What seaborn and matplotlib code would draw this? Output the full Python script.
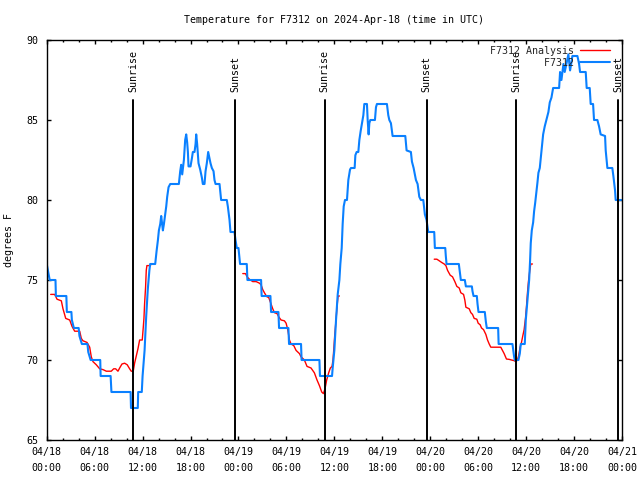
import matplotlib
matplotlib.use("Agg")
import matplotlib.pyplot as plt
from matplotlib.lines import Line2D
from matplotlib.ticker import MultipleLocator
import pandas as pd
import seaborn as sns

# ---------------- data (hours since 2024-04-18 00:00 UTC, deg F) ----------------
obs_hours = [0.0, 0.19, 0.375, 1.1, 1.15, 2.46, 2.52, 3.09, 3.15, 3.4, 4.0, 4.1, 4.4, 5.1, 5.2, 5.5,
             6.7, 6.75, 8.0, 8.1, 10.5, 10.55, 11.4, 11.45, 11.9, 12.0, 12.25, 12.45, 12.65, 12.85,
             12.95, 13.58, 13.75, 13.92, 14.04, 14.21, 14.33, 14.54, 14.67, 14.96, 15.08, 15.25,
             15.46, 16.54, 16.71, 16.83, 16.96, 17.17, 17.33, 17.46, 17.58, 17.67, 17.75, 18.0,
             18.17, 18.29, 18.5, 18.63, 18.71, 18.83, 19.0, 19.21, 19.42, 19.54, 19.75, 19.88,
             20.04, 20.21, 20.38, 20.5, 20.67, 20.88, 21.0, 21.13, 21.63, 21.75, 21.83, 22.54,
             22.67, 22.88, 23.0, 23.5, 23.63, 23.79, 24.0, 24.2, 25.04, 25.12, 26.83, 26.9, 28.0,
             28.08, 29.0, 29.08, 30.25, 30.33, 31.83, 31.9, 34.13, 34.2, 35.71, 35.79, 36.0, 36.21,
             36.42, 36.63, 36.75, 36.92, 37.04, 37.17, 37.33, 37.58, 37.75, 37.96, 38.08, 38.54,
             38.63, 38.79, 39.0, 39.13, 39.29, 39.46, 39.63, 39.75, 40.08, 40.17, 40.29, 40.38,
             40.5, 41.08, 41.21, 41.33, 42.58, 42.75, 42.88, 43.08, 43.29, 44.88, 45.04, 45.58,
             45.71, 45.92, 46.21, 46.42, 46.63, 46.83, 47.13, 47.33, 47.54, 47.75, 48.5, 48.58,
             49.88, 49.95, 50.04, 51.58, 51.71, 51.83, 52.33, 52.46, 53.21, 53.29, 53.42, 53.83,
             53.92, 54.04, 54.83, 54.96, 55.08, 56.5, 56.56, 58.29, 58.5, 58.58, 59.04, 59.21,
             59.33, 59.83, 59.96, 60.17, 60.38, 60.5, 60.58, 60.71, 60.88, 61.0, 61.13, 61.29,
             61.42, 61.54, 61.71, 61.83, 61.96, 62.13, 62.33, 62.54, 62.79, 62.96, 63.17, 63.38,
             64.13, 64.25, 64.42, 64.54, 64.67, 64.83, 65.04, 65.29, 65.5, 65.67, 65.79, 66.42,
             66.63, 66.75, 67.46, 67.58, 67.96, 68.08, 68.38, 68.5, 68.92, 69.13, 69.33, 69.88,
             69.96, 70.17, 70.79, 70.92, 71.13, 71.21, 71.9]
obs_temps = [76.0, 75.5, 75.0, 75.0, 74.0, 74.0, 73.0, 73.0, 72.5, 72.0, 72.0, 71.5, 71.0, 71.0, 70.5, 70.0,
             70.0, 69.0, 69.0, 68.0, 68.0, 67.0, 67.0, 68.0, 68.0, 69.0, 70.6, 72.7, 74.4, 75.6,
             76.0, 76.0, 76.8, 77.5, 78.1, 78.5, 79.0, 78.1, 78.5, 79.6, 80.2, 80.8,
             81.0, 81.0, 81.8, 82.2, 81.6, 82.5, 83.75, 84.1, 83.6, 83.0, 82.1, 82.1,
             82.6, 83.0, 83.0, 83.5, 84.1, 83.5, 82.3, 81.9, 81.4, 81.0, 81.0, 81.8,
             82.3, 83.0, 82.6, 82.3, 82.0, 81.8, 81.25, 81.0, 81.0, 80.4, 80.0, 80.0,
             79.6, 78.75, 78.0, 78.0, 77.5, 77.0, 77.0, 76.0, 76.0, 75.0, 75.0, 74.0, 74.0,
             73.0, 73.0, 72.0, 72.0, 71.0, 71.0, 70.0, 70.0, 69.0, 69.0, 69.5, 70.6, 72.5,
             74.1, 75.0, 76.0, 77.0, 78.5, 79.6, 80.0, 80.0, 81.25, 81.9, 82.0, 82.0,
             82.8, 83.0, 83.0, 83.75, 84.3, 84.8, 85.3, 86.0, 86.0, 85.0, 84.1, 84.8,
             85.0, 85.0, 85.8, 86.0, 86.0, 85.3, 85.0, 84.8, 84.0, 84.0, 83.1, 83.0,
             82.4, 82.0, 81.25, 81.0, 80.2, 80.0, 80.0, 79.1, 78.75, 78.0, 78.0, 77.0,
             77.0, 76.5, 76.0, 76.0, 75.5, 75.0, 75.0, 74.6, 74.6, 74.3, 74.0, 74.0,
             73.5, 73.0, 73.0, 72.4, 72.0, 72.0, 71.0, 71.0, 70.2, 70.0, 70.0, 70.4,
             71.0, 71.0, 72.5, 73.75, 75.0, 76.25, 77.3, 78.1, 78.6, 79.3, 79.8, 80.5,
             81.1, 81.7, 82.0, 82.6, 83.3, 84.1, 84.6, 85.0, 85.5, 86.1, 86.4, 87.0,
             87.0, 88.0, 87.5, 88.0, 88.5, 88.0, 88.5, 89.1, 88.1, 88.6, 89.0, 89.0,
             88.5, 88.0, 88.0, 87.0, 87.0, 86.0, 86.0, 85.0, 85.0, 84.6, 84.1, 84.0,
             83.1, 82.0, 82.0, 81.5, 80.6, 80.0, 80.0]

anl1_hours = [0.5, 1.0, 1.29, 1.83, 2.04, 2.38, 2.88, 3.17, 3.5, 4.13, 4.33, 4.54, 5.04, 5.38, 5.58,
              5.79, 6.21, 6.63, 7.04, 7.46, 8.08, 8.38, 8.63, 8.92, 9.13, 9.42, 9.75, 10.08, 10.38,
              10.58, 10.83, 11.0, 11.21, 11.42, 11.63, 11.96, 12.08, 12.17, 12.25, 12.38, 12.46,
              12.54, 13.0]
anl1_temps = [74.1, 74.1, 73.8, 73.7, 73.2, 72.6, 72.5, 72.1, 71.8, 71.8, 71.35, 71.2, 71.1, 70.8, 70.2,
              69.9, 69.7, 69.45, 69.4, 69.3, 69.3, 69.45, 69.45, 69.3, 69.5, 69.75, 69.8, 69.7, 69.45,
              69.3, 69.3, 69.8, 70.25, 70.7, 71.25, 71.25, 72.0, 72.6, 73.5, 74.6, 75.6,
              75.9, 75.9]
anl2_hours = [24.54, 24.88, 25.08, 25.38, 25.79, 26.21, 26.63, 26.83, 27.04, 27.25, 27.54, 27.79, 28.08,
              28.29, 28.5, 28.83, 29.04, 29.33, 29.75, 29.96, 30.17, 30.38, 30.58, 30.92, 31.21, 31.63,
              31.83, 32.25, 32.58, 33.08, 33.5, 33.83, 34.13, 34.42, 34.63, 34.83, 35.04, 35.29, 35.5,
              35.71, 35.83, 35.92, 36.04, 36.21, 36.33, 36.46, 36.63]
anl2_temps = [75.4, 75.4, 75.2, 75.04, 74.9, 74.9, 74.8, 74.7, 74.4, 74.2, 73.96, 73.9, 73.5,
              73.2, 72.96, 72.9, 72.7, 72.5, 72.45, 72.3, 71.9, 71.25, 71.0, 70.9, 70.6, 70.4,
              70.2, 70.0, 69.6, 69.5, 69.2, 68.75, 68.4, 68.0, 67.9, 68.2, 68.75, 69.2, 69.5,
              69.6, 70.0, 70.6, 71.5, 72.5, 73.3, 74.0, 74.0]
anl3_hours = [48.5, 48.83, 49.13, 49.42, 49.75, 49.96, 50.17, 50.5, 50.79, 51.08, 51.33, 51.63, 51.83,
              52.17, 52.33, 52.46, 52.88, 53.08, 53.29, 53.5, 53.83, 54.0, 54.25, 54.42, 54.67, 54.96,
              55.17, 55.38, 55.58, 56.83, 57.04, 57.25, 57.54, 57.88, 58.17, 58.5, 58.71, 58.92, 59.08,
              59.25, 59.42, 59.58, 59.75, 59.92, 60.04, 60.17, 60.29, 60.46, 60.58, 60.79]
anl3_temps = [76.3, 76.3, 76.2, 76.1, 76.0, 75.9, 75.6, 75.3, 75.2, 74.9, 74.6, 74.5, 74.2,
              74.1, 73.75, 73.3, 73.2, 72.96, 72.85, 72.6, 72.55, 72.3, 72.2, 72.0, 71.9, 71.6,
              71.25, 71.0, 70.8, 70.8, 70.6, 70.4, 70.06, 70.04, 70.0, 69.96, 69.9, 70.0, 70.3,
              70.8, 71.1, 71.5, 71.9, 72.6, 73.3, 74.2, 74.9, 75.6, 76.0, 76.0]

sun_hours = [10.79, 23.56, 34.79, 47.56, 58.79, 71.56]
sun_labels = ["Sunrise", "Sunset", "Sunrise", "Sunset", "Sunrise", "Sunset"]

xtick_hours = list(range(0, 73, 6))
xtick_labels = ["04/18\n00:00", "04/18\n06:00", "04/18\n12:00", "04/18\n18:00",
                "04/19\n00:00", "04/19\n06:00", "04/19\n12:00", "04/19\n18:00",
                "04/20\n00:00", "04/20\n06:00", "04/20\n12:00", "04/20\n18:00",
                "04/21\n00:00"]
ytick_values = [65, 70, 75, 80, 85, 90]

title = "Temperature for F7312 on 2024-Apr-18 (time in UTC)"
name_analysis = "F7312 Analysis"
name_obs = "F7312"

# ---------------- style ----------------
sns.set_theme(style="white")
plt.rcParams["font.family"] = ["DejaVu Sans Mono"]
FS = 7.2
RED = "#ff0000"
BLUE = "#0a80ff"

fig = plt.figure(figsize=(6.4, 4.8), dpi=100)
L, R, T, B = 46.7, 622.0, 40.0, 440.0
ax = fig.add_axes([L / 640, 1 - B / 480, (R - L) / 640, (B - T) / 480])

# analysis segments (red) drawn first, observations (blue) on top
for hh, tt in [(anl1_hours, anl1_temps), (anl2_hours, anl2_temps), (anl3_hours, anl3_temps)]:
    df = pd.DataFrame({"hour": hh, "temp": tt})
    sns.lineplot(data=df, x="hour", y="temp", ax=ax, color=RED, lw=1.0,
                 estimator=None, sort=False, legend=False)

df_obs = pd.DataFrame({"hour": obs_hours, "temp": obs_temps})
sns.lineplot(data=df_obs, x="hour", y="temp", ax=ax, color=BLUE, lw=1.5,
             estimator=None, sort=False, legend=False)

ax.set_xlim(0, 72)
ax.set_ylim(65, 90)

line_top = 86.25
for h, lab in zip(sun_hours, sun_labels):
    ax.axvline(h, ymin=0, ymax=(line_top - 65) / 25, color="black", lw=1.4)
    ax.text(h, 86.75, lab, rotation=90, ha="center", va="bottom", fontsize=FS, color="black")

ax.set_xticks(xtick_hours)
ax.set_xticklabels(xtick_labels, fontsize=FS, linespacing=1.75)
ax.xaxis.set_minor_locator(MultipleLocator(2))
ax.set_yticks(ytick_values)
ax.set_yticklabels([str(v) for v in ytick_values], fontsize=FS)
ax.tick_params(which="both", direction="in", top=True, right=True, bottom=True, left=True,
               color="black", width=1.0, labelcolor="black")
ax.tick_params(which="major", length=3.0)
ax.tick_params(which="minor", length=1.5)
ax.tick_params(axis="x", which="major", pad=5)
ax.tick_params(axis="y", which="major", pad=6)

for s in ax.spines.values():
    s.set_color("black")
    s.set_linewidth(1.0)

ax.set_xlabel("")
ax.set_ylabel("degrees F", fontsize=FS, color="black")
ax.yaxis.set_label_coords(-0.056, 0.5)
ax.set_title(title, fontsize=FS, color="black", pad=12)

handles = [Line2D([], [], color=RED, lw=1.0), Line2D([], [], color=BLUE, lw=1.5)]
labels = [name_analysis, " " * (len(name_analysis) - len(name_obs)) + name_obs]
leg = ax.legend(handles, labels, loc="upper right", bbox_to_anchor=((610 - L) / (R - L), 0.985),
                frameon=False, markerfirst=False, fontsize=FS, handlelength=3.0,
                handletextpad=0.65, borderpad=0, borderaxespad=0, labelspacing=0.2)

fig.savefig("out.png", dpi=100)
